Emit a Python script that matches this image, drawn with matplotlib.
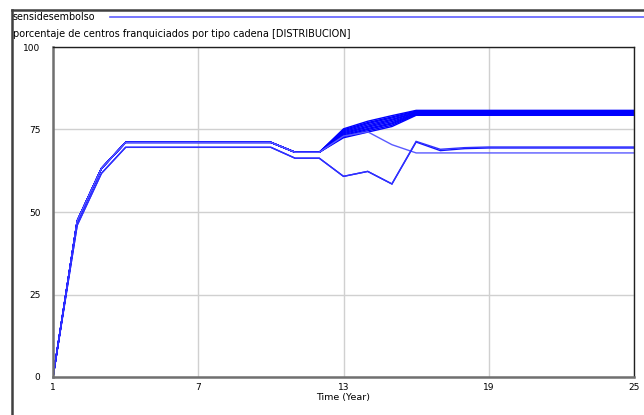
import matplotlib.pyplot as plt
from matplotlib.lines import Line2D

# time axis (years)
years = list(range(1, 26))

# first 12 years: two starting groups
head_upper = [0, 47.3, 63.2, 71.1, 71.1, 71.1, 71.1, 71.1, 71.1, 71.1, 68.1, 68.1]
head_lower = [0, 46.0, 61.7, 69.6, 69.6, 69.6, 69.6, 69.6, 69.6, 69.6, 66.3, 66.3]

# fan of sensitivity runs, years 13..16, flat afterwards
fan_tails = [
    [72.5, 74.2, 75.9, 79.3],
    [72.8, 74.6, 76.3, 79.5],
    [73.1, 75.0, 76.7, 79.6],
    [73.4, 75.3, 77.0, 79.8],
    [73.7, 75.7, 77.4, 79.9],
    [74.0, 76.0, 77.8, 80.1],
    [74.3, 76.4, 78.1, 80.2],
    [74.6, 76.8, 78.5, 80.4],
    [74.9, 77.1, 78.8, 80.6],
    [75.2, 77.5, 79.2, 80.8],
]

# single runs, years 13..19, flat afterwards
side_tail = [73.0, 74.3, 70.4, 67.9, 67.9, 67.9, 67.9]
dip_tail_a = [60.8, 62.3, 58.5, 71.2, 68.6, 69.2, 69.4]
dip_tail_b = [60.8, 62.3, 58.5, 71.4, 69.0, 69.5, 69.7]

series = []
for tail in fan_tails:
    series.append((head_upper + tail + [tail[-1]] * 9, '#0000ff'))
series.append((head_upper + side_tail + [side_tail[-1]] * 6, '#5a5aff'))
series.append((head_lower + dip_tail_a + [dip_tail_a[-1]] * 6, '#1010ff'))
series.append((head_lower + dip_tail_b + [dip_tail_b[-1]] * 6, '#3030ff'))

fig = plt.figure(figsize=(6.44, 4.15), dpi=100)
ax = fig.add_axes([53 / 644, 1 - 377 / 415, 581 / 644, 330 / 415])

for vals, col in series:
    ax.plot(years, vals, color=col, lw=1.0, solid_joinstyle='miter')

ax.set_xlim(1, 25)
ax.set_ylim(0, 100)
ax.set_xticks([1, 7, 13, 19, 25])
ax.set_yticks([0, 25, 50, 75, 100])
ax.tick_params(length=0, labelsize=6.5)
ax.tick_params(axis='y', pad=9)
ax.tick_params(axis='x', pad=4)
for lab in ax.get_yticklabels():
    lab.set_horizontalalignment('right')
ax.grid(True, color='#d0d0d0', lw=1)
ax.set_axisbelow(True)
for side in ['left', 'bottom']:
    ax.spines[side].set_color('#707070')
    ax.spines[side].set_linewidth(1.8)
for side in ['top', 'right']:
    ax.spines[side].set_color('#202020')
    ax.spines[side].set_linewidth(1.0)
ax.set_xlabel('Time (Year)', fontsize=6.8, labelpad=1)

# outer frame and header
fig.add_artist(Line2D([12 / 644, 12 / 644], [0, 1 - 10 / 415], color='#404040', lw=1.8))
fig.add_artist(Line2D([12 / 644, 1], [1 - 10 / 415, 1 - 10 / 415], color='#404040', lw=1.8))
fig.add_artist(Line2D([110 / 644, 1], [1 - 17 / 415, 1 - 17 / 415], color='#6060ff', lw=1.2))
fig.text(13 / 644, 1 - 17 / 415, 'sensidesembolso', fontsize=6.9, va='center')
fig.text(13 / 644, 1 - 34 / 415,
         'porcentaje de centros franquiciados por tipo cadena [DISTRIBUCION]',
         fontsize=7.0, va='center')

fig.savefig('out.png', dpi=100)
